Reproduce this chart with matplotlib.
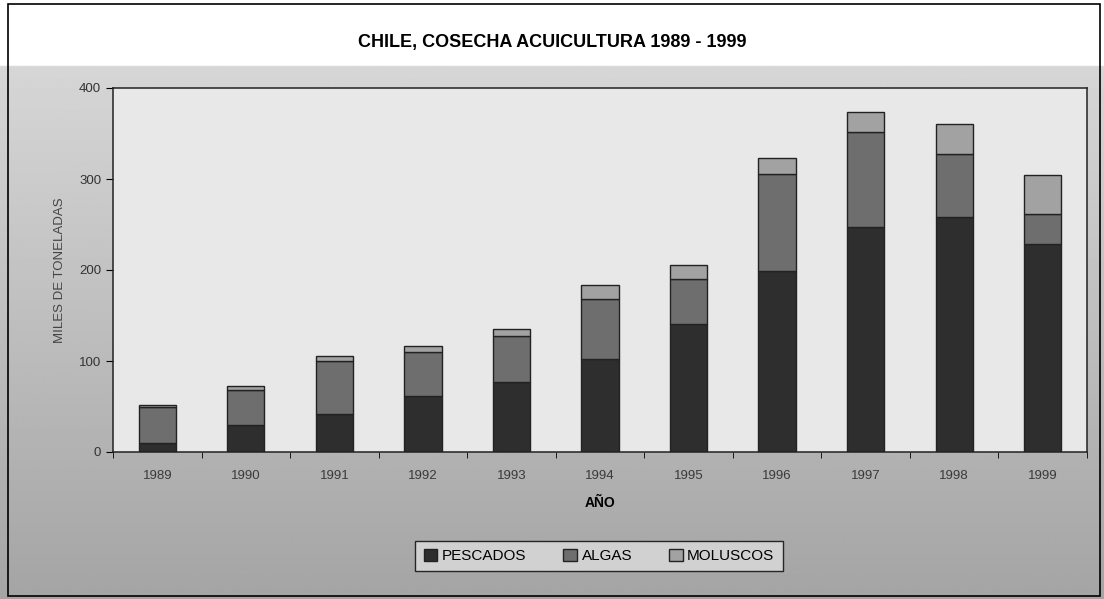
import matplotlib
matplotlib.use("Agg")
import matplotlib.pyplot as plt
import numpy as np
from matplotlib.patches import Rectangle, Patch

plt.rcParams['font.family'] = ['Liberation Sans', 'DejaVu Sans']

years = ["1989", "1990", "1991", "1992", "1993", "1994", "1995", "1996", "1997", "1998", "1999"]
pescados = [10, 30, 42, 62, 77, 102, 141, 199, 247, 258, 229]
algas = [39, 38, 58, 48, 50, 66, 49, 107, 105, 70, 32]
moluscos = [3, 4, 5, 6, 8, 16, 16, 17, 22, 32, 43]

colors = ["#2e2e2e", "#6e6e6e", "#a2a2a2"]
names = ["PESCADOS", "ALGAS", "MOLUSCOS"]

fig = plt.figure(figsize=(11.04, 5.99), dpi=100)

# background gradient (scan tone)
bg = fig.add_axes([0, 0, 1, 1], zorder=-10)
grad = np.linspace(0, 1, 300)
tone = np.where(grad < 0.11, 1.0, 0.84 - 0.22 * (grad - 0.11))
bg.imshow(np.repeat(tone[:, None], 10, axis=1), cmap="gray", vmin=0, vmax=1,
          aspect="auto", extent=[0, 1, 0, 1])
bg.set_xlim(0, 1); bg.set_ylim(0, 1)
bg.axis("off")

fig.patches.append(Rectangle((8 / 1104, 3 / 599), 1092 / 1104, 592 / 599,
                             transform=fig.transFigure, fill=False,
                             edgecolor="black", linewidth=1.2))

ax = fig.add_axes([113 / 1104, 1 - 452 / 599, 974 / 1104, 364 / 599])
ax.set_facecolor("#e8e8e8")
x = np.arange(len(years))
w = 0.42
bottom = np.zeros(len(years))
for vals, c in zip([pescados, algas, moluscos], colors):
    ax.bar(x, vals, w, bottom=bottom, color=c, edgecolor="#222222", linewidth=1.0)
    bottom += np.array(vals)

ax.set_xlim(-0.5, len(years) - 0.5)
ax.set_ylim(0, 400)
ax.set_yticks([0, 100, 200, 300, 400])
ax.set_xticks(x)
ax.set_xticklabels(years)
ax.set_xticks(np.arange(-0.5, len(years)), minor=True)
ax.tick_params(axis="x", which="major", length=0, pad=13, labelsize=9.5, labelcolor="#3a3a3a")
ax.tick_params(axis="x", which="minor", length=4, direction="out")
ax.tick_params(axis="y", length=5, direction="out", labelsize=9.5, labelcolor="#333333")
for s in ax.spines.values():
    s.set_linewidth(1.1)
    s.set_color("#222222")

ax.set_xlabel("AÑO", fontsize=10, fontweight="bold", labelpad=10)
ax.set_ylabel("MILES DE TONELADAS", fontsize=9.5, color="#444444", labelpad=9)

fig.text(0.5, 1 - 43 / 599, "CHILE, COSECHA ACUICULTURA 1989 - 1999",
         ha="center", va="center", fontsize=13, fontweight="bold")

handles = [Patch(facecolor=c, edgecolor="#222222", label=n) for c, n in zip(colors, names)]
leg = fig.legend(handles=handles, loc="center", bbox_to_anchor=(599 / 1104, 1 - 556 / 599),
                 ncol=3, fontsize=11, frameon=True, fancybox=False, edgecolor="black",
                 handlelength=0.9, handleheight=0.8, handletextpad=0.3, columnspacing=2.4,
                 borderpad=0.55)
leg.get_frame().set_facecolor("#dcdcdc")
leg.get_frame().set_linewidth(1.0)

fig.savefig("out.png", dpi=100)
